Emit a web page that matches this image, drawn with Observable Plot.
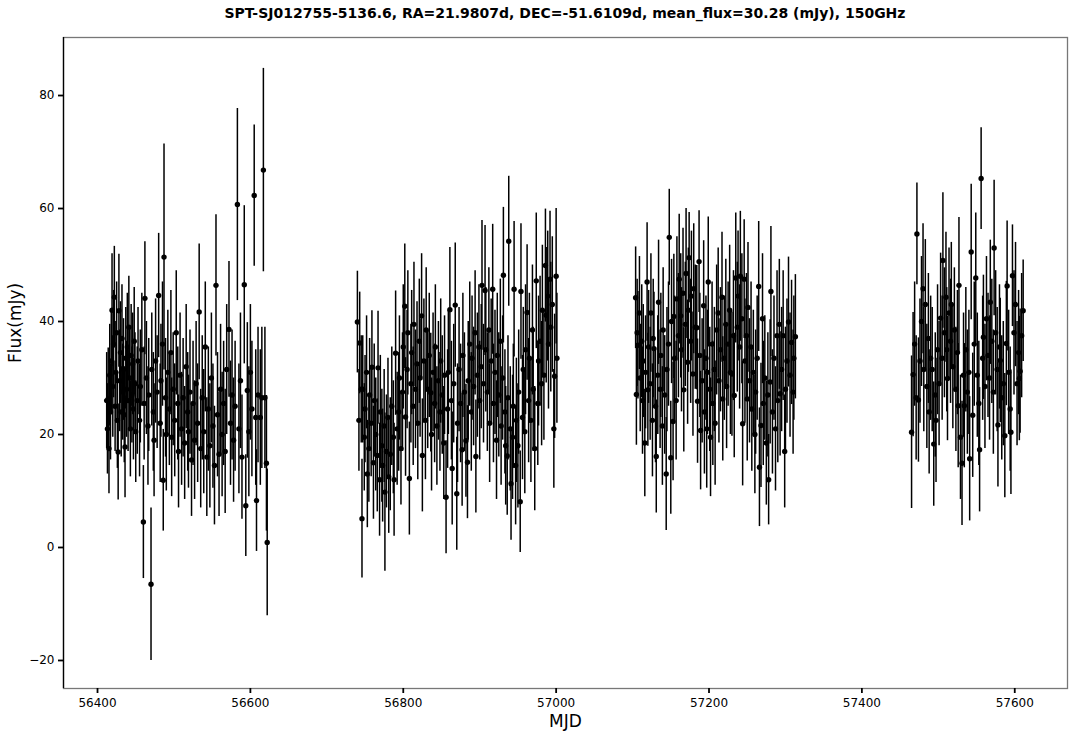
<!DOCTYPE html>
<html>
<head>
<meta charset="utf-8">
<script src="https://cdn.jsdelivr.net/npm/d3@7"></script>
<script src="https://cdn.jsdelivr.net/npm/@observablehq/plot@0.6"></script>
<style>
  html, body { margin: 0; padding: 0; background: #fff; }
  #title { width: 1081px; box-sizing: border-box; padding-left: 63px; padding-right: 14px; height: 26px; line-height: 26px; text-align: center; font-family: "DejaVu Sans", sans-serif; font-weight: bold; font-size: 14px; color: #000; }
</style>
</head>
<body>
<div id="title">SPT-SJ012755-5136.6, RA=21.9807d, DEC=-51.6109d, mean_flux=30.28 (mJy), 150GHz</div>
<div id="chart"></div>
<script>
// Season 1
const s1Mjd = [56412,56413,56414,56415,56416,56417,56418,56419,56420,56421,56422,56423,56424,56425,56426,56427,56428,56429,56430,56431,56432,56433,56434,56435,56436,56437,56438,56439,56440,56441,56442,56443,56444,56445,56446,56447,56448,56449,56450,56452,56453,56455,56456,56458,56460,56461,56462,56464,56466,56467,56470,56471,56473,56474,56476,56478,56480,56482,56483,56485,56486,56487,56489,56490,56492,56494,56496,56497,56499,56501,56503,56505,56506,56508,56510,56512,56514,56516,56518,56519,56521,56523,56525,56527,56529,56531,56533,56535,56537,56539,56541,56543,56545,56547,56549,56551,56553,56555,56557,56559,56561,56563,56565,56567,56569,56572,56574,56576,56578,56580,56583,56585,56587,56589,56592,56594,56596,56598,56600,56602,56605,56607,56608,56610,56613,56615,56617,56619,56621,56622];
const s1Flux = [26.0,21.0,26.3,17.5,30.5,24.0,33.0,42.0,28.5,36.0,44.3,25.0,31.0,38.0,22.5,16.9,41.9,29.5,34.5,24.0,37.0,27.5,31.5,23.5,17.8,33.5,28.0,35.5,26.0,39.0,30.0,21.0,34.0,27.0,32.5,24.5,36.5,29.0,20.5,26.0,33.0,22.5,28.5,35.0,4.5,25.5,44.1,30.0,21.5,27.0,-6.5,31.5,24.0,19.0,33.0,27.5,44.6,22.0,29.5,36.0,11.9,51.4,26.5,20.0,31.0,24.5,34.5,19.5,28.0,22.5,38.0,25.5,17.0,30.5,21.0,26.5,18.5,32.0,24.0,20.5,27.5,15.5,25.5,19.0,29.0,22.0,41.7,17.5,26.5,20.5,35.5,16.0,24.5,18.0,30.0,21.5,14.5,46.4,23.5,16.5,28.0,20.0,25.5,17.0,31.5,38.6,22.0,27.0,19.0,25.0,60.7,21.0,29.5,16.0,46.5,7.4,27.8,20.5,31.0,24.5,62.3,23.0,8.3,27.0,23.0,26.5,66.8,26.5,14.9,0.9];
const s1Err = [8.5,8,9,8,9,8.5,9,10,9,9.5,9,8,9,9,8.5,8.5,10,9,9,8,9.5,8.5,9,8.5,9,9,8.5,9.5,9,9,9,8.5,9,8.5,9,9,9.5,9,9,9.5,9.5,10,10,10,10,10,10,10,10.5,10,13.5,10,10.5,10,11,10,11,10.5,10,11,9,20,10.5,10,11,10,11,10.5,10,10,11,10,10,11,10,10.5,10,11,10.5,10,11,10,11,10.5,11,10.5,12,10.5,11,11,11.5,10.5,11,11,11.5,11,10.5,12.5,11,11,11.5,11,11,11,11.5,12,11,11.5,11,11.5,17,11.5,12,11,14,9,12,11.5,12,12,12.5,12,9,12,12,12.5,18,12.5,12,13];

// Season 2
const s2Mjd = [56740,56742,56743,56745,56746,56747,56749,56750,56752,56753,56755,56756,56758,56759,56761,56762,56764,56766,56767,56769,56770,56772,56773,56775,56776,56778,56780,56781,56783,56785,56787,56788,56790,56792,56794,56795,56797,56799,56800,56802,56803,56805,56806,56808,56810,56811,56813,56814,56816,56818,56819,56821,56822,56824,56825,56827,56829,56830,56832,56834,56836,56837,56839,56841,56842,56844,56846,56848,56849,56851,56853,56854,56856,56858,56859,56861,56863,56864,56866,56868,56870,56871,56873,56875,56877,56878,56880,56882,56884,56885,56887,56889,56890,56892,56894,56895,56897,56899,56900,56902,56903,56905,56907,56908,56910,56912,56913,56915,56917,56918,56920,56922,56923,56925,56927,56928,56930,56931,56933,56934,56936,56937,56938,56940,56941,56943,56944,56945,56947,56948,56950,56951,56953,56954,56956,56957,56959,56960,56962,56964,56965,56967,56969,56970,56972,56974,56976,56977,56979,56981,56982,56984,56986,56987,56989,56990,56992,56993,56995,56997,56998,57000,57001];
const s2Flux = [39.9,22.5,36.2,28.0,5.1,28.0,19.5,24.5,31.0,13.0,17.5,27.0,22.0,31.9,15.0,26.0,20.0,16.3,31.8,12.0,24.0,18.0,14.5,21.5,9.8,17.0,23.0,12.5,16.5,25.0,19.5,12.0,34.4,21.0,24.0,30.0,17.5,27.5,35.5,42.7,23.1,31.5,38.0,12.2,29.0,34.5,25.0,39.5,28.0,32.5,22.0,36.5,30.0,41.0,16.3,33.0,22.5,38.5,28.0,34.0,27.4,20.0,31.0,25.5,35.5,21.5,29.5,24.0,33.0,27.0,18.5,30.5,8.9,24.5,31.0,42.1,26.0,14.0,29.0,42.9,9.5,22.0,31.5,25.5,17.3,34.0,27.5,18.9,15.1,29.5,36.0,24.0,33.5,28.5,38.0,16.1,30.5,35.5,26.0,32.0,46.4,29.0,45.5,35.0,27.5,38.5,22.0,33.0,45.7,25.5,31.0,19.0,34.0,27.0,36.5,21.5,30.0,48.2,24.0,18.0,16.2,26.5,54.2,21.0,11.3,19.5,25.0,45.7,14.5,22.5,18.0,27.5,8.1,45.3,23.0,31.5,20.5,35.0,41.6,26.0,33.5,22.5,38.5,28.0,17.5,47.2,25.5,33.0,36.5,29.0,42.0,30.5,49.9,41.1,44.5,36.0,47.5,39.0,43.0,21.0,30.3,48.0,33.5];
const s2Err = [9,9,9,9.5,10.5,9.5,9.5,9.5,10,9.5,9.5,10,9.5,10,10,10,10,10,10,10,10,10,10,10,14,10,10.5,10,10,10.5,10,10,11,10,10.5,11,10,10.5,11,11,10.5,10.5,11,10,10.5,11,10.5,11,10.5,11,10,11,10.5,11,10,11,10.5,11,10.5,11,10.5,10,10.5,10.5,11,10.5,10.5,10.5,11,10.5,10,10.5,10,10.5,11,11,10.5,10,10.5,11,10,10.5,11,10.5,10,11,10.5,10,10,10.5,11,10.5,11,10.5,11,10,11,11,10.5,11,11.5,10.5,11.5,11,10.5,11,10.5,11,11.5,10.5,11,10.5,11,11,11,10.5,11,12,11,10.5,10.5,11,11.5,11,10,11,11,12,10.5,11,11,11,9,12,11,11,11,11.5,12,11,11.5,11,11.5,11,11,12,11,11.5,11.5,11,11.5,11.5,10,12,11.5,11.5,12,11.5,12,10.5,11,12,11.5];

// Season 3
const s3Mjd = [57104,57105,57106,57107,57109,57110,57112,57113,57114,57116,57117,57119,57120,57121,57123,57124,57126,57127,57128,57130,57131,57133,57134,57136,57137,57139,57140,57142,57144,57145,57147,57148,57150,57151,57153,57154,57155,57157,57158,57160,57161,57163,57164,57166,57167,57169,57170,57172,57173,57174,57176,57177,57179,57180,57182,57184,57185,57187,57188,57189,57191,57193,57194,57196,57197,57198,57199,57201,57202,57204,57205,57207,57208,57210,57212,57213,57215,57217,57218,57220,57222,57223,57225,57227,57228,57230,57232,57233,57235,57237,57238,57240,57241,57243,57244,57246,57247,57249,57250,57251,57253,57255,57256,57258,57260,57261,57263,57265,57266,57268,57270,57271,57273,57275,57277,57278,57280,57281,57283,57285,57287,57289,57290,57292,57293,57295,57297,57299,57300,57302,57304,57306,57308,57310,57311,57313];
const s3Flux = [44.2,27.1,38.0,35.8,41.5,30.0,36.5,26.0,33.0,18.5,31.0,47.0,27.9,35.5,29.0,41.5,22.5,37.0,35.2,25.0,16.1,30.5,43.4,28.0,34.0,21.5,38.5,27.0,13.0,31.5,36.0,54.9,15.9,40.0,22.3,40.9,33.5,26.0,44.0,37.5,47.5,41.0,35.0,45.0,27.9,39.5,48.5,32.8,42.0,51.3,36.5,44.5,30.7,45.8,39.0,38.9,25.9,50.6,34.0,20.7,29.5,42.8,24.0,33.5,21.0,31.0,47.0,28.0,19.5,36.0,25.5,31.5,22.0,38.5,41.5,29.5,35.0,44.3,26.3,33.5,39.5,28.5,36.0,42.0,31.0,30.7,37.5,26.9,47.7,39.0,44.5,35.5,48.0,40.5,21.9,47.5,33.0,37.5,26.3,42.5,29.5,35.5,24.5,31.0,20.0,27.5,33.5,46.2,14.2,21.6,40.5,25.5,30.0,18.5,27.0,12.0,29.3,45.3,24.0,33.5,21.0,37.5,26.0,39.5,27.2,31.5,37.5,17.0,28.0,33.0,39.9,30.5,36.3,27.5,33.5,37.3];
const s3Err = [9,9,9.5,9.5,10,9.5,10,9.5,10,9.5,10,10.5,10,10,10,10.5,10,10.5,10,10,10,10.5,11,10.5,11,10.5,11,10.5,10,11,11,8.5,10,11,10.5,11,11,10.5,11,11,11.5,11,11,11.5,11,11,11.5,11,11,8,11,11.5,11,11.5,11,11,11,9,11,10.5,11,11.5,11,11,10.5,11,11.5,11,10.5,11,11,11,11,11.5,11.5,11,11,11.5,11,11,11.5,11,11,11.5,11,11,11.5,11,11.5,11.5,11.5,11,11.5,11.5,11,10.5,11,11,11,11.5,11,11.5,11,11,10.5,11,11,11.5,10.5,11,11.5,11,11,11,11,8,11,11.5,11,11,11,11.5,11,11.5,11,11,11.5,10,11,11,11.5,11,11,11,11,11];

// Season 4
const s4Mjd = [57465,57467,57469,57471,57472,57474,57476,57478,57480,57481,57483,57485,57487,57488,57490,57492,57494,57496,57497,57499,57501,57503,57505,57506,57508,57510,57511,57512,57514,57516,57517,57519,57521,57523,57525,57526,57527,57529,57531,57533,57534,57536,57538,57540,57541,57543,57545,57547,57549,57551,57553,57554,57556,57558,57559,57561,57563,57565,57567,57568,57570,57572,57573,57575,57577,57578,57580,57581,57583,57585,57587,57589,57590,57592,57594,57595,57597,57599,57601,57603,57605,57606,57607,57609,57611];
const s4Flux = [20.4,30.6,36.0,26.5,55.5,26.1,33.0,40.0,45.8,31.5,43.0,28.5,37.0,24.0,33.5,31.5,18.3,27.0,22.5,35.0,29.0,40.6,33.5,50.8,38.0,44.3,35.0,29.9,41.5,36.5,43.0,32.0,38.5,28.0,34.5,25.1,46.4,19.5,14.9,30.5,25.1,35.0,27.5,31.0,15.7,52.3,23.4,36.0,47.7,30.5,25.5,17.3,65.3,33.5,37.2,28.5,40.5,34.0,30.0,43.4,36.5,27.5,53.0,38.0,31.5,21.7,35.5,33.1,26.5,29.0,19.8,36.1,46.3,31.0,24.5,20.4,48.1,38.0,43.0,29.0,34.5,29.9,31.2,37.5,41.9];
const s4Err = [13.5,11,11,11,9,11,11,11.5,11.5,11,11.5,11,11.5,11,11,11,11,11,11,11.5,11,11.5,11,12,11.5,11.5,11,11,11.5,11,11,11,11,11,11,11,12,11,11,11,11,11,11,11,11,12,11,11,11.5,11,11,11,9,11,11,11,11,11,11,11,11,11,12,11,11,11,11,11,11,11,11,11,11.5,11,11,11,9,11,11,11,11,11,11,11,9];

const xTicks = [56400, 56600, 56800, 57000, 57200, 57400, 57600];
const yTicks = [-20, 0, 20, 40, 60, 80];
const xDomain = [56355.5, 57669];
const yDomain = [-24.96, 90.27];

const seasons = [[s1Mjd, s1Flux, s1Err], [s2Mjd, s2Flux, s2Err], [s3Mjd, s3Flux, s3Err], [s4Mjd, s4Flux, s4Err]];
const data = [];
for (const [m, f, e] of seasons) {
  for (let i = 0; i < m.length; i++) data.push({mjd: m[i], flux: f[i], err: e[i]});
}

const chart = Plot.plot({
  width: 1081,
  height: 713,
  marginTop: 11,
  marginBottom: 51,
  marginLeft: 63,
  marginRight: 14,
  style: {fontFamily: "DejaVu Sans, sans-serif", fontSize: "12px", color: "#000", background: "#fff"},
  x: {domain: xDomain, ticks: xTicks},
  y: {domain: yDomain, ticks: yTicks},
  marks: [
    Plot.ruleX(data, {x: "mjd", y1: d => d.flux - d.err, y2: d => d.flux + d.err, stroke: "black", strokeWidth: 1.5, clip: true}),
    Plot.dot(data, {x: "mjd", y: "flux", r: 2.7, fill: "black", stroke: "none", clip: true}),
    Plot.frame({stroke: "#777", strokeWidth: 1.3}),
    Plot.ruleX([xDomain[0]], {stroke: "black", strokeWidth: 1.3}),
    Plot.axisX({ticks: xTicks, tickSize: 5, tickPadding: 5, tickFormat: d => String(d), fontSize: 12, label: null, strokeWidth: 1.8}),
    Plot.axisY({ticks: yTicks, tickSize: 5, tickPadding: 4, tickFormat: d => d < 0 ? "\u2212" + Math.abs(d) : String(d), fontSize: 12, label: null, strokeWidth: 1.8}),
    Plot.text(["MJD"], {frameAnchor: "bottom", text: d => d, dy: 38, fontSize: 17, fill: "black"}),
    Plot.text(["Flux(mJy)"], {frameAnchor: "left", text: d => d, dx: -48, rotate: -90, fontSize: 17, fill: "black"})
  ]
});
document.getElementById("chart").appendChild(chart);
</script>
</body>
</html>
